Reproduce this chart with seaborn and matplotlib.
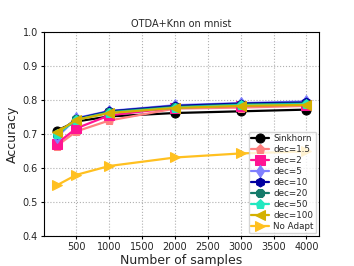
import matplotlib
matplotlib.use("Agg")
import matplotlib.pyplot as plt
import seaborn as sns
import pandas as pd

sns.set_style("white")
plt.rcParams['font.family'] = ['DejaVu Sans']

n_samples = [200, 500, 1000, 2000, 3000, 4000]
sinkhorn = [0.710, 0.737, 0.752, 0.762, 0.767, 0.772]
dec_1_5 = [0.665, 0.708, 0.740, 0.775, 0.778, 0.783]
dec_2 = [0.672, 0.717, 0.755, 0.778, 0.783, 0.787]
dec_5 = [0.690, 0.747, 0.768, 0.785, 0.791, 0.796]
dec_10 = [0.700, 0.745, 0.767, 0.783, 0.790, 0.793]
dec_20 = [0.700, 0.743, 0.765, 0.780, 0.787, 0.790]
dec_50 = [0.700, 0.742, 0.763, 0.778, 0.785, 0.788]
dec_100 = [0.705, 0.742, 0.762, 0.777, 0.783, 0.786]
no_adapt = [0.549, 0.580, 0.606, 0.631, 0.643, 0.649]

labels = ["Sinkhorn", "dec=1.5", "dec=2", "dec=5", "dec=10", "dec=20", "dec=50", "dec=100", "No Adapt"]
series = [sinkhorn, dec_1_5, dec_2, dec_5, dec_10, dec_20, dec_50, dec_100, no_adapt]
colors = ["#000000", "#ff8080", "#ff1493", "#8080ff", "#0000a0", "#157a6a", "#20e8c0", "#d4b000", "#ffc020"]
markers = ["o", "p", "s", "d", "h", "8", "p", "<", ">"]

rows = []
for lab, vals in zip(labels, series):
    for x, y in zip(n_samples, vals):
        rows.append({"n": x, "acc": y, "method": lab})
df = pd.DataFrame(rows)

fig = plt.figure(figsize=(3.54, 2.66), dpi=100)
ax = fig.add_axes([0.125, 0.113, 0.776, 0.766])
for lab, c, m in zip(labels, colors, markers):
    sns.lineplot(data=df[df.method == lab], x="n", y="acc", ax=ax, color=c, marker=m,
                 markersize=6.5, linewidth=1.6, markeredgecolor=c, label=lab)

ax.set_ylim(0.4, 1.0)
ax.set_xticks([500, 1000, 1500, 2000, 2500, 3000, 3500, 4000])
ax.set_yticks([0.4, 0.5, 0.6, 0.7, 0.8, 0.9, 1.0])
ax.tick_params(axis='both', labelsize=7, length=2.5, width=0.8, pad=2, direction='out',
               color='black', left=True, bottom=True)
ax.grid(True, linestyle=':', color='#b0b0b0', linewidth=0.8)
for s in ax.spines.values():
    s.set_color('black')
    s.set_linewidth(0.8)
ax.set_title("OTDA+Knn on mnist", fontsize=7, pad=4)
ax.set_xlabel("Number of samples", fontsize=9, labelpad=1)
ax.set_ylabel("Accuracy", fontsize=9, labelpad=3)
leg = ax.legend(loc="lower right", fontsize=6.3, handlelength=2, labelspacing=0.22,
                borderpad=0.3, handletextpad=0.5, frameon=True, fancybox=True,
                borderaxespad=0.3, markerscale=1.0)
leg.get_frame().set_edgecolor('#cccccc')
fig.savefig("out.png", dpi=100)
